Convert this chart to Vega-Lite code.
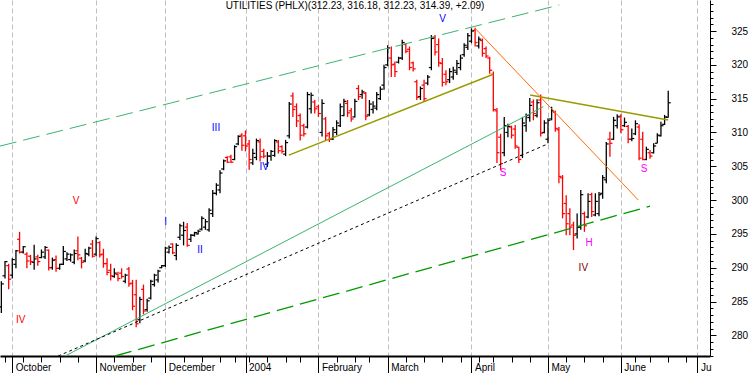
{
  "$schema": "https://vega.github.io/schema/vega-lite/v6.json",
  "width": 710,
  "height": 356,
  "autosize": {"type": "none"},
  "padding": {"left": 0, "top": 0, "right": 41, "bottom": 17},
  "background": "white",
  "config": {
    "view": {"stroke": null},
    "axis": {"labelFont": "Liberation Sans", "labelFontSize": 10, "labelColor": "#000000", "tickColor": "#000000", "domainColor": "#000000", "title": null}
  },
  "datasets": {
    "bars": [
      {"i":-3,"o":284.2,"h":288.0,"l":283.3,"c":287.6},
      {"i":-2,"o":288.8,"h":291.0,"l":288.4,"c":290.9},
      {"i":-1,"o":290.3,"h":290.6,"l":286.8,"c":288.3},
      {"i":0,"o":288.9,"h":291.4,"l":288.4,"c":291.2},
      {"i":1,"o":290.5,"h":292.6,"l":289.9,"c":292.5},
      {"i":2,"o":294.2,"h":295.3,"l":292.1,"c":292.3},
      {"i":3,"o":292.3,"h":293.2,"l":292.1,"c":293.1},
      {"i":4,"o":292.0,"h":292.3,"l":289.9,"c":291.0},
      {"i":5,"o":291.7,"h":291.9,"l":290.4,"c":290.9},
      {"i":6,"o":290.8,"h":293.4,"l":289.7,"c":291.3},
      {"i":7,"o":291.6,"h":291.9,"l":290.3,"c":290.9},
      {"i":8,"o":291.5,"h":292.7,"l":291.4,"c":292.3},
      {"i":9,"o":291.6,"h":293.2,"l":291.3,"c":293.0},
      {"i":10,"o":292.6,"h":292.7,"l":289.6,"c":290.0},
      {"i":11,"o":290.0,"h":291.5,"l":289.7,"c":291.1},
      {"i":12,"o":291.2,"h":291.8,"l":289.4,"c":289.9},
      {"i":13,"o":289.9,"h":290.6,"l":289.7,"c":290.5},
      {"i":14,"o":290.5,"h":293.2,"l":290.4,"c":292.4},
      {"i":15,"o":291.3,"h":292.3,"l":291.0,"c":292.0},
      {"i":16,"o":291.2,"h":292.1,"l":290.9,"c":291.9},
      {"i":17,"o":290.8,"h":292.7,"l":290.5,"c":292.1},
      {"i":18,"o":292.5,"h":294.6,"l":291.1,"c":291.9},
      {"i":19,"o":291.4,"h":291.6,"l":289.9,"c":290.8},
      {"i":20,"o":291.0,"h":292.8,"l":290.8,"c":292.1},
      {"i":21,"o":292.0,"h":293.1,"l":291.7,"c":292.9},
      {"i":22,"o":293.5,"h":294.1,"l":291.5,"c":291.7},
      {"i":23,"o":292.0,"h":294.6,"l":291.7,"c":294.3},
      {"i":24,"o":293.7,"h":293.9,"l":291.5,"c":291.9},
      {"i":25,"o":292.0,"h":292.8,"l":290.0,"c":290.6},
      {"i":26,"o":290.6,"h":291.4,"l":288.9,"c":289.3},
      {"i":27,"o":289.6,"h":290.6,"l":288.1,"c":288.8},
      {"i":28,"o":288.7,"h":289.9,"l":288.5,"c":289.2},
      {"i":29,"o":289.0,"h":289.4,"l":288.0,"c":288.4},
      {"i":30,"o":289.2,"h":289.9,"l":288.4,"c":288.7},
      {"i":31,"o":288.0,"h":289.1,"l":287.7,"c":288.9},
      {"i":32,"o":289.8,"h":290.1,"l":287.2,"c":287.6},
      {"i":33,"o":287.7,"h":288.2,"l":283.7,"c":284.3},
      {"i":34,"o":286.0,"h":288.2,"l":281.2,"c":281.7},
      {"i":35,"o":282.3,"h":285.7,"l":281.8,"c":285.3},
      {"i":36,"o":286.8,"h":287.5,"l":283.1,"c":283.6},
      {"i":37,"o":283.8,"h":285.4,"l":283.5,"c":285.1},
      {"i":38,"o":285.5,"h":288.2,"l":285.3,"c":288.0},
      {"i":39,"o":287.5,"h":289.1,"l":287.2,"c":288.9},
      {"i":40,"o":288.2,"h":289.7,"l":287.8,"c":289.5},
      {"i":41,"o":290.0,"h":290.4,"l":289.9,"c":290.3},
      {"i":42,"o":290.3,"h":293.1,"l":290.1,"c":292.9},
      {"i":43,"o":292.3,"h":293.3,"l":292.1,"c":293.0},
      {"i":44,"o":293.5,"h":293.6,"l":292.0,"c":292.2},
      {"i":45,"o":291.8,"h":293.6,"l":291.1,"c":293.3},
      {"i":46,"o":294.5,"h":296.5,"l":294.1,"c":296.2},
      {"i":47,"o":294.8,"h":296.8,"l":293.3,"c":295.5},
      {"i":48,"o":296.0,"h":296.6,"l":293.1,"c":293.3},
      {"i":49,"o":294.2,"h":295.0,"l":293.8,"c":294.8},
      {"i":50,"o":294.8,"h":295.3,"l":294.6,"c":295.2},
      {"i":51,"o":295.0,"h":295.6,"l":294.9,"c":295.4},
      {"i":52,"o":295.7,"h":297.6,"l":295.5,"c":297.3},
      {"i":53,"o":296.0,"h":297.2,"l":295.6,"c":296.8},
      {"i":54,"o":295.6,"h":298.8,"l":295.3,"c":298.5},
      {"i":55,"o":298.0,"h":301.5,"l":297.5,"c":301.0},
      {"i":56,"o":301.0,"h":302.5,"l":300.7,"c":302.2},
      {"i":57,"o":301.5,"h":304.4,"l":301.0,"c":304.0},
      {"i":58,"o":304.6,"h":306.0,"l":304.4,"c":305.8},
      {"i":59,"o":306.3,"h":306.5,"l":305.5,"c":305.6},
      {"i":60,"o":306.4,"h":306.7,"l":305.5,"c":305.6},
      {"i":61,"o":306.0,"h":308.1,"l":305.9,"c":307.9},
      {"i":62,"o":308.3,"h":309.6,"l":308.1,"c":309.4},
      {"i":63,"o":309.6,"h":309.9,"l":307.3,"c":308.1},
      {"i":64,"o":309.5,"h":310.3,"l":307.2,"c":308.0},
      {"i":65,"o":308.3,"h":308.9,"l":304.5,"c":306.0},
      {"i":66,"o":305.5,"h":307.6,"l":305.2,"c":306.9},
      {"i":67,"o":306.3,"h":309.1,"l":305.9,"c":308.8},
      {"i":68,"o":308.6,"h":309.1,"l":305.7,"c":306.4},
      {"i":69,"o":307.2,"h":307.6,"l":306.2,"c":306.5},
      {"i":70,"o":305.3,"h":307.1,"l":304.9,"c":306.5},
      {"i":71,"o":306.5,"h":307.4,"l":305.8,"c":307.2},
      {"i":72,"o":306.6,"h":309.0,"l":306.4,"c":308.8},
      {"i":73,"o":308.6,"h":308.9,"l":306.9,"c":307.3},
      {"i":74,"o":307.9,"h":308.1,"l":306.9,"c":307.2},
      {"i":75,"o":306.8,"h":308.9,"l":306.5,"c":308.5},
      {"i":76,"o":309.5,"h":314.5,"l":309.1,"c":314.2},
      {"i":77,"o":315.4,"h":315.9,"l":312.3,"c":313.4},
      {"i":78,"o":313.8,"h":314.3,"l":310.8,"c":311.7},
      {"i":79,"o":312.5,"h":312.8,"l":308.8,"c":309.6},
      {"i":80,"o":311.0,"h":311.3,"l":309.4,"c":309.8},
      {"i":81,"o":310.8,"h":316.0,"l":310.6,"c":315.6},
      {"i":82,"o":313.5,"h":315.9,"l":312.8,"c":315.5},
      {"i":83,"o":314.5,"h":314.8,"l":312.8,"c":313.5},
      {"i":84,"o":313.8,"h":314.1,"l":312.3,"c":312.8},
      {"i":85,"o":310.0,"h":314.9,"l":309.4,"c":314.3},
      {"i":86,"o":312.0,"h":312.3,"l":308.9,"c":309.5},
      {"i":87,"o":309.8,"h":310.1,"l":308.6,"c":309.0},
      {"i":88,"o":309.0,"h":310.8,"l":308.9,"c":310.4},
      {"i":89,"o":310.0,"h":311.8,"l":309.6,"c":311.4},
      {"i":90,"o":311.0,"h":314.3,"l":310.8,"c":313.8},
      {"i":91,"o":312.5,"h":315.0,"l":312.4,"c":314.6},
      {"i":92,"o":314.3,"h":314.8,"l":312.3,"c":312.9},
      {"i":93,"o":313.2,"h":313.6,"l":311.6,"c":312.0},
      {"i":94,"o":312.3,"h":315.0,"l":312.2,"c":314.6},
      {"i":95,"o":316.5,"h":317.0,"l":314.8,"c":315.3},
      {"i":96,"o":315.6,"h":316.3,"l":315.0,"c":316.0},
      {"i":97,"o":315.8,"h":316.0,"l":311.8,"c":312.4},
      {"i":98,"o":312.6,"h":314.8,"l":312.4,"c":314.2},
      {"i":99,"o":313.4,"h":314.6,"l":312.8,"c":313.9},
      {"i":100,"o":313.6,"h":316.0,"l":313.3,"c":315.6},
      {"i":101,"o":315.0,"h":316.8,"l":314.8,"c":316.4},
      {"i":102,"o":317.0,"h":320.0,"l":316.3,"c":319.6},
      {"i":103,"o":320.0,"h":322.9,"l":319.8,"c":322.5},
      {"i":104,"o":321.0,"h":322.7,"l":318.2,"c":320.0},
      {"i":105,"o":320.1,"h":320.5,"l":318.2,"c":319.0},
      {"i":106,"o":320.4,"h":321.2,"l":320.2,"c":321.0},
      {"i":107,"o":321.0,"h":323.7,"l":320.7,"c":323.3},
      {"i":108,"o":323.0,"h":323.2,"l":321.7,"c":322.0},
      {"i":109,"o":322.3,"h":322.7,"l":319.2,"c":319.6},
      {"i":110,"o":320.3,"h":320.5,"l":319.0,"c":319.4},
      {"i":111,"o":317.5,"h":317.8,"l":314.8,"c":315.2},
      {"i":112,"o":315.3,"h":316.8,"l":314.8,"c":316.5},
      {"i":113,"o":317.0,"h":317.8,"l":314.5,"c":315.0},
      {"i":114,"o":317.3,"h":318.5,"l":317.0,"c":318.2},
      {"i":115,"o":319.6,"h":324.4,"l":319.2,"c":323.9},
      {"i":116,"o":324.0,"h":324.4,"l":321.4,"c":321.9},
      {"i":117,"o":323.0,"h":323.9,"l":319.7,"c":320.3},
      {"i":118,"o":320.2,"h":321.0,"l":316.8,"c":317.4},
      {"i":119,"o":318.6,"h":319.2,"l":317.0,"c":317.5},
      {"i":120,"o":317.8,"h":319.5,"l":317.3,"c":319.0},
      {"i":121,"o":318.2,"h":319.7,"l":317.8,"c":319.2},
      {"i":122,"o":318.9,"h":320.7,"l":318.5,"c":320.2},
      {"i":123,"o":319.6,"h":321.5,"l":319.2,"c":321.0},
      {"i":124,"o":321.5,"h":323.2,"l":321.2,"c":322.9},
      {"i":125,"o":322.6,"h":324.7,"l":322.2,"c":324.3},
      {"i":126,"o":323.5,"h":325.4,"l":323.2,"c":325.0},
      {"i":127,"o":325.1,"h":325.5,"l":322.7,"c":323.3},
      {"i":128,"o":322.8,"h":324.2,"l":322.4,"c":323.8},
      {"i":129,"o":323.6,"h":323.9,"l":321.2,"c":321.7},
      {"i":130,"o":322.4,"h":322.7,"l":321.0,"c":321.3},
      {"i":131,"o":321.0,"h":321.2,"l":318.7,"c":319.2},
      {"i":132,"o":318.6,"h":319.0,"l":313.1,"c":313.4},
      {"i":133,"o":313.2,"h":313.6,"l":305.5,"c":307.0},
      {"i":134,"o":309.3,"h":309.8,"l":304.4,"c":305.4},
      {"i":135,"o":307.0,"h":312.3,"l":306.5,"c":311.0},
      {"i":136,"o":310.0,"h":311.3,"l":309.3,"c":310.9},
      {"i":137,"o":310.8,"h":311.0,"l":309.1,"c":309.6},
      {"i":138,"o":310.5,"h":311.1,"l":307.6,"c":308.0},
      {"i":139,"o":307.8,"h":307.9,"l":305.5,"c":306.0},
      {"i":140,"o":306.6,"h":312.3,"l":306.2,"c":311.4},
      {"i":141,"o":311.0,"h":312.8,"l":310.1,"c":312.5},
      {"i":142,"o":312.2,"h":315.1,"l":311.6,"c":314.0},
      {"i":143,"o":314.5,"h":314.9,"l":311.8,"c":312.8},
      {"i":144,"o":312.5,"h":314.9,"l":312.2,"c":314.4},
      {"i":145,"o":314.8,"h":315.6,"l":309.4,"c":309.9},
      {"i":146,"o":310.0,"h":311.8,"l":309.9,"c":311.4},
      {"i":147,"o":309.0,"h":312.1,"l":308.4,"c":311.8},
      {"i":148,"o":312.0,"h":313.8,"l":311.8,"c":313.2},
      {"i":149,"o":313.0,"h":313.2,"l":310.1,"c":310.6},
      {"i":150,"o":310.4,"h":310.8,"l":302.5,"c":303.5},
      {"i":151,"o":303.3,"h":303.7,"l":297.3,"c":298.0},
      {"i":152,"o":299.5,"h":300.7,"l":294.8,"c":296.5},
      {"i":153,"o":298.0,"h":298.8,"l":294.8,"c":296.0},
      {"i":154,"o":296.3,"h":296.8,"l":292.6,"c":294.8},
      {"i":155,"o":295.0,"h":298.0,"l":294.3,"c":296.0},
      {"i":156,"o":296.0,"h":301.5,"l":295.6,"c":300.8},
      {"i":157,"o":298.0,"h":298.3,"l":295.3,"c":296.2},
      {"i":158,"o":297.5,"h":301.0,"l":297.3,"c":299.8},
      {"i":159,"o":300.8,"h":301.1,"l":297.5,"c":298.3},
      {"i":160,"o":297.8,"h":301.0,"l":297.6,"c":299.8},
      {"i":161,"o":298.0,"h":301.2,"l":297.6,"c":300.8},
      {"i":162,"o":301.0,"h":303.7,"l":300.2,"c":303.3},
      {"i":163,"o":303.0,"h":308.6,"l":302.5,"c":308.3},
      {"i":164,"o":309.0,"h":310.1,"l":306.4,"c":308.4},
      {"i":165,"o":309.0,"h":312.3,"l":308.9,"c":311.8},
      {"i":166,"o":311.0,"h":312.7,"l":310.6,"c":312.3},
      {"i":167,"o":312.4,"h":312.7,"l":309.9,"c":310.4},
      {"i":168,"o":311.0,"h":312.2,"l":310.8,"c":311.5},
      {"i":169,"o":310.9,"h":311.1,"l":308.4,"c":309.0},
      {"i":170,"o":309.0,"h":310.6,"l":308.7,"c":309.1},
      {"i":171,"o":309.8,"h":311.8,"l":309.6,"c":311.3},
      {"i":172,"o":310.8,"h":311.2,"l":305.9,"c":306.2},
      {"i":173,"o":309.0,"h":310.1,"l":305.9,"c":306.0},
      {"i":174,"o":306.0,"h":307.9,"l":305.9,"c":307.5},
      {"i":175,"o":307.0,"h":307.4,"l":306.1,"c":306.5},
      {"i":176,"o":307.0,"h":308.4,"l":306.9,"c":308.0},
      {"i":177,"o":308.4,"h":309.9,"l":308.4,"c":309.6},
      {"i":178,"o":309.5,"h":311.6,"l":309.4,"c":311.0},
      {"i":179,"o":311.2,"h":312.6,"l":311.1,"c":312.3},
      {"i":180,"o":312.23,"h":316.18,"l":312.23,"c":314.39}
    ],
    "lines": [
      {"id":"up","i":-3.4,"v":307.98},{"id":"up","i":150.1,"v":328.85},
      {"id":"low","i":28.2,"v":276.94},{"id":"low","i":175,"v":299.1},
      {"id":"teal","i":14.5,"v":276.94},{"id":"teal","i":145.7,"v":313.8},
      {"id":"dot","i":12.6,"v":276.94},{"id":"dot","i":146.6,"v":308.23},
      {"id":"ol1","i":75.9,"v":306.65},{"id":"ol1","i":132,"v":318.6},
      {"id":"ol2","i":142.1,"v":315.53},{"id":"ol2","i":180,"v":311.83},
      {"id":"or","i":127,"v":325.4},{"id":"or","i":171.8,"v":300.0}
    ],
    "notes": [
      {"i":2.3,"v":282.2,"t":"IV","g":"p"},
      {"i":17.5,"v":299.9,"t":"V","g":"p"},
      {"i":42.1,"v":296.8,"t":"I","g":"m"},
      {"i":51.5,"v":292.6,"t":"II","g":"m"},
      {"i":55.9,"v":310.7,"t":"III","g":"m"},
      {"i":69.1,"v":304.9,"t":"IV","g":"m"},
      {"i":118.1,"v":326.8,"t":"V","g":"m"},
      {"i":134.7,"v":304.0,"t":"S","g":"s"},
      {"i":158.3,"v":293.6,"t":"H","g":"s"},
      {"i":156.7,"v":290.0,"t":"IV","g":"c"},
      {"i":173.4,"v":304.6,"t":"S","g":"s"}
    ],
    "title": [
      {"i":94.05,"v":328.65,"t":"UTILITIES (PHLX)(312.23, 316.18, 312.23, 314.39, +2.09)"}
    ]
  },
  "layer": [
    {
      "data": {"name": "bars"},
      "mark": {"type": "rule", "strokeWidth": 1.3},
      "encoding": {
        "x": {"field": "i", "type": "quantitative", "scale": {"domain": [-3.375, 191.46], "nice": false, "zero": false},
          "axis": {"orient": "bottom", "values": [0,23,42,64,84,103,126,147,167,188],
            "labelExpr": "datum.value==0?'October':datum.value==23?'November':datum.value==42?'December':datum.value==64?'2004':datum.value==84?'February':datum.value==103?'March':datum.value==126?'April':datum.value==147?'May':datum.value==167?'June':'Ju'",
            "grid": true, "gridColor": "#bdbdbd", "gridDash": [5, 3], "gridWidth": 1,
            "tickSize": 17, "tickWidth": 1, "domainWidth": 2,
            "labelAlign": "left", "labelOffset": 3, "labelPadding": -11, "labelBaseline": "top",
            "labelFlush": false, "labelOverlap": false, "labelBound": false}},
        "y": {"field": "l", "type": "quantitative", "scale": {"domain": [276.94, 329.59], "nice": false, "zero": false},
          "axis": {"orient": "right", "values": [280,285,290,295,300,305,310,315,320,325],
            "tickSize": 6, "labelPadding": 15, "grid": false, "domainWidth": 1, "labelFlush": false, "labelOverlap": false}},
        "y2": {"field": "h"},
        "color": {"condition": {"test": "datum.c < datum.o", "value": "#ff0000"}, "value": "#000000"}
      }
    },
    {
      "data": {"name": "bars"},
      "mark": {"type": "rule", "strokeWidth": 1.2, "xOffset": -2.5, "x2Offset": 0},
      "encoding": {
        "x": {"field": "i", "type": "quantitative", "scale": {"domain": [-3.375, 191.46], "nice": false, "zero": false}, "axis": null},
        "x2": {"field": "i"},
        "y": {"field": "o", "type": "quantitative", "scale": {"domain": [276.94, 329.59], "nice": false, "zero": false}, "axis": null},
        "color": {"condition": {"test": "datum.c < datum.o", "value": "#ff0000"}, "value": "#000000"}
      }
    },
    {
      "data": {"name": "bars"},
      "mark": {"type": "rule", "strokeWidth": 1.2, "xOffset": 0, "x2Offset": 2.5},
      "encoding": {
        "x": {"field": "i", "type": "quantitative", "scale": {"domain": [-3.375, 191.46], "nice": false, "zero": false}, "axis": null},
        "x2": {"field": "i"},
        "y": {"field": "c", "type": "quantitative", "scale": {"domain": [276.94, 329.59], "nice": false, "zero": false}, "axis": null},
        "color": {"condition": {"test": "datum.c < datum.o", "value": "#ff0000"}, "value": "#000000"}
      }
    },
    {
      "data": {"name": "lines"},
      "transform": [{"filter": "datum.id == 'up'"}],
      "mark": {"type": "line", "color": "#3cb371", "strokeWidth": 1, "strokeDash": [17, 7]},
      "encoding": {
        "x": {"field": "i", "type": "quantitative", "scale": {"domain": [-3.375, 191.46], "nice": false, "zero": false},
          "axis": {"orient": "bottom", "values": [-2,3,8,13,18,28,33,38,47,52,57,61,65,70,75,79,89,94,98,108,113,118,123,128,132,137,142,152,157,162,171,175,180,185],
            "labels": false, "domain": false, "grid": false, "tickSize": 6, "tickWidth": 1}},
        "y": {"field": "v", "type": "quantitative", "scale": {"domain": [276.94, 329.59], "nice": false, "zero": false},
          "axis": {"orient": "right", "values": [277,278,279,281,282,283,284,286,287,288,289,291,292,293,294,296,297,298,299,301,302,303,304,306,307,308,309,311,312,313,314,316,317,318,319,321,322,323,324,326,327,328,329],
            "labels": false, "domain": false, "grid": false, "tickSize": 3, "tickWidth": 1}}
      }
    },
    {
      "data": {"name": "lines"},
      "transform": [{"filter": "datum.id == 'low'"}],
      "mark": {"type": "line", "color": "#009a00", "strokeWidth": 1.3, "strokeDash": [17, 7]},
      "encoding": {
        "x": {"field": "i", "type": "quantitative", "scale": {"domain": [-3.375, 191.46], "nice": false, "zero": false}, "axis": null},
        "y": {"field": "v", "type": "quantitative", "scale": {"domain": [276.94, 329.59], "nice": false, "zero": false}, "axis": null}
      }
    },
    {
      "data": {"name": "lines"},
      "transform": [{"filter": "datum.id == 'teal'"}],
      "mark": {"type": "line", "color": "#3cb371", "strokeWidth": 1},
      "encoding": {
        "x": {"field": "i", "type": "quantitative", "scale": {"domain": [-3.375, 191.46], "nice": false, "zero": false}, "axis": null},
        "y": {"field": "v", "type": "quantitative", "scale": {"domain": [276.94, 329.59], "nice": false, "zero": false}, "axis": null}
      }
    },
    {
      "data": {"name": "lines"},
      "transform": [{"filter": "datum.id == 'dot'"}],
      "mark": {"type": "line", "color": "#000000", "strokeWidth": 1, "strokeDash": [3, 3]},
      "encoding": {
        "x": {"field": "i", "type": "quantitative", "scale": {"domain": [-3.375, 191.46], "nice": false, "zero": false}, "axis": null},
        "y": {"field": "v", "type": "quantitative", "scale": {"domain": [276.94, 329.59], "nice": false, "zero": false}, "axis": null}
      }
    },
    {
      "data": {"name": "lines"},
      "transform": [{"filter": "datum.id == 'ol1' || datum.id == 'ol2'"}],
      "mark": {"type": "line", "color": "#9a9a00", "strokeWidth": 1.5},
      "encoding": {
        "x": {"field": "i", "type": "quantitative", "scale": {"domain": [-3.375, 191.46], "nice": false, "zero": false}, "axis": null},
        "y": {"field": "v", "type": "quantitative", "scale": {"domain": [276.94, 329.59], "nice": false, "zero": false}, "axis": null},
        "detail": {"field": "id"}
      }
    },
    {
      "data": {"name": "lines"},
      "transform": [{"filter": "datum.id == 'or'"}],
      "mark": {"type": "line", "color": "#ff6a00", "strokeWidth": 1},
      "encoding": {
        "x": {"field": "i", "type": "quantitative", "scale": {"domain": [-3.375, 191.46], "nice": false, "zero": false}, "axis": null},
        "y": {"field": "v", "type": "quantitative", "scale": {"domain": [276.94, 329.59], "nice": false, "zero": false}, "axis": null}
      }
    },
    {
      "data": {"name": "notes"},
      "mark": {"type": "text", "font": "Liberation Sans", "fontSize": 10, "align": "center", "baseline": "middle"},
      "encoding": {
        "x": {"field": "i", "type": "quantitative", "scale": {"domain": [-3.375, 191.46], "nice": false, "zero": false}, "axis": null},
        "y": {"field": "v", "type": "quantitative", "scale": {"domain": [276.94, 329.59], "nice": false, "zero": false}, "axis": null},
        "text": {"field": "t"},
        "color": {"field": "g", "type": "nominal", "scale": {"domain": ["p","m","s","c"], "range": ["#ff0000","#0000ff","#ff00ff","#800000"]}, "legend": null}
      }
    },
    {
      "data": {"name": "title"},
      "mark": {"type": "text", "font": "Liberation Sans", "fontSize": 10, "align": "center", "baseline": "middle", "color": "#000000"},
      "encoding": {
        "x": {"field": "i", "type": "quantitative", "scale": {"domain": [-3.375, 191.46], "nice": false, "zero": false}, "axis": null},
        "y": {"field": "v", "type": "quantitative", "scale": {"domain": [276.94, 329.59], "nice": false, "zero": false}, "axis": null},
        "text": {"field": "t"}
      }
    }
  ],
  "resolve": {"axis": {"x": "independent", "y": "independent"}}
}
